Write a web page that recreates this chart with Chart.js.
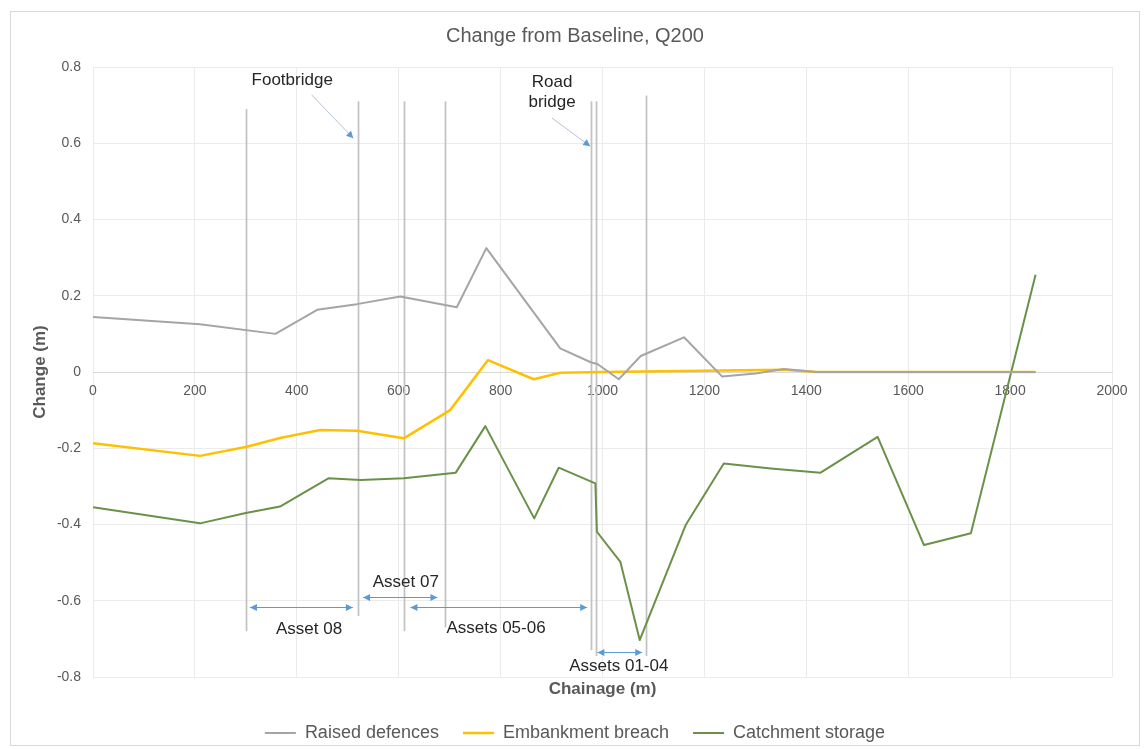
<!DOCTYPE html>
<html>
<head>
<meta charset="utf-8">
<title>Change from Baseline, Q200</title>
<script src="https://cdn.jsdelivr.net/npm/chart.js@4.4.1/dist/chart.umd.min.js"></script>
<style>
  html, body { margin: 0; padding: 0; background: #ffffff; }
  #wrap { position: relative; width: 1144px; height: 749px; }
</style>
</head>
<body>
<div id="wrap"><canvas id="chart" width="1144" height="749"></canvas></div>
<script>
// ---- Series data: chainage (m) and change in level (m) ----
const raisedChainage = [0, 210, 358, 440, 518, 603, 714, 772, 917, 978, 990, 1032, 1075, 1160, 1235, 1300, 1356, 1420, 1850];
const raisedChange   = [0.144, 0.125, 0.100, 0.163, 0.178, 0.198, 0.170, 0.325, 0.062, 0.025, 0.021, -0.019, 0.042, 0.091, -0.012, -0.004, 0.008, 0, 0];

const breachChainage = [0, 210, 302, 367, 446, 518, 610, 701, 775, 865, 917, 1000, 1356, 1420, 1850];
const breachChange   = [-0.187, -0.220, -0.196, -0.173, -0.152, -0.154, -0.174, -0.100, 0.031, -0.019, -0.002, 0, 0.006, 0, 0];

const storageChainage = [0, 210, 300, 367, 462, 525, 610, 712, 770, 866, 914, 986, 989, 1035, 1073, 1163, 1238, 1330, 1428, 1540, 1631, 1723, 1850];
const storageChange   = [-0.355, -0.397, -0.370, -0.353, -0.279, -0.283, -0.279, -0.264, -0.142, -0.384, -0.251, -0.292, -0.419, -0.498, -0.703, -0.402, -0.240, -0.253, -0.264, -0.170, -0.454, -0.423, 0.255];

const seriesNames = ['Raised defences', 'Embankment breach', 'Catchment storage'];

// ---- Axis ticks ----
const xTickMin = 0, xTickMax = 2000, xTickStep = 200;
const yTickMin = -0.8, yTickMax = 0.8, yTickStep = 0.2;

// ---- Asset reach markers (chainage, m) ----
const assetLineChainage = [300, 520, 610, 690, 978, 988, 1086];
const assetLineTop      = [0.69, 0.71, 0.71, 0.71, 0.71, 0.71, 0.725];
const assetLineBottom   = [-0.68, -0.64, -0.68, -0.67, -0.73, -0.745, -0.745];

const assetSpanStart = [308, 530, 623, 990];
const assetSpanEnd   = [510, 676, 970, 1078];
const assetSpanLevel = [-0.617, -0.59, -0.617, -0.735];

const assetLabels         = ['Asset 08', 'Asset 07', 'Assets 05-06', 'Assets 01-04'];
const assetLabelChainage  = [424, 614, 791, 1032];
const assetLabelLevel     = [-0.675, -0.552, -0.672, -0.772];

// ---- Bridge callouts ----
const bridgeLabels        = [['Footbridge'], ['Road', 'bridge']];
const bridgeLabelChainage = [391, 901];
const bridgeLabelLevel    = [0.764, 0.759];
const bridgeLeaderFrom    = [[429, 0.727], [901, 0.666]];
const bridgeLeaderTo      = [[511, 0.613], [976, 0.592]];

const toPoints = (xs, ys) => xs.map((x, i) => ({ x: x, y: ys[i] }));

const FONT = "'Liberation Sans', Arial, Helvetica, sans-serif";
Chart.defaults.font.family = FONT;
Chart.defaults.color = '#595959';

function arrowHead(ctx, x, y, angle, len, half) {
  ctx.save();
  ctx.translate(x, y);
  ctx.rotate(angle);
  ctx.beginPath();
  ctx.moveTo(0, 0);
  ctx.lineTo(-len, -half);
  ctx.lineTo(-len, half);
  ctx.closePath();
  ctx.fill();
  ctx.restore();
}

const chartFrame = {
  id: 'chartFrame',
  beforeDraw(chart) {
    const ctx = chart.ctx;
    ctx.save();
    ctx.fillStyle = '#ffffff';
    ctx.fillRect(0, 0, chart.width, chart.height);
    ctx.strokeStyle = '#d9d9d9';
    ctx.lineWidth = 1;
    ctx.strokeRect(10.5, 11.5, chart.width - 15, chart.height - 15);
    ctx.restore();
  }
};

const assetMarks = {
  id: 'assetMarks',
  beforeDatasetsDraw(chart) {
    const { ctx, scales: { x, y } } = chart;
    ctx.save();
    ctx.strokeStyle = '#c3c3c3';
    ctx.lineWidth = 1.75;
    assetLineChainage.forEach((c, i) => {
      const px = Math.round(x.getPixelForValue(c)) + 0.5;
      ctx.beginPath();
      ctx.moveTo(px, y.getPixelForValue(assetLineTop[i]));
      ctx.lineTo(px, y.getPixelForValue(assetLineBottom[i]));
      ctx.stroke();
    });
    ctx.restore();
  },
  afterDatasetsDraw(chart) {
    const { ctx, scales: { x, y } } = chart;
    ctx.save();
    // dimension arrows for each asset reach
    ctx.strokeStyle = '#5b9bd5';
    ctx.fillStyle = '#5b9bd5';
    ctx.lineWidth = 1;
    assetSpanStart.forEach((c, i) => {
      const x0 = x.getPixelForValue(c);
      const x1 = x.getPixelForValue(assetSpanEnd[i]);
      const py = Math.round(y.getPixelForValue(assetSpanLevel[i])) + 0.5;
      ctx.beginPath();
      ctx.moveTo(x0, py);
      ctx.lineTo(x1, py);
      ctx.stroke();
      arrowHead(ctx, x0, py, Math.PI, 7, 3.5);
      arrowHead(ctx, x1, py, 0, 7, 3.5);
    });
    // bridge leader lines
    bridgeLeaderFrom.forEach((from, i) => {
      const to = bridgeLeaderTo[i];
      const ax = x.getPixelForValue(from[0]), ay = y.getPixelForValue(from[1]);
      const bx = x.getPixelForValue(to[0]), by = y.getPixelForValue(to[1]);
      ctx.strokeStyle = '#b4c2d6';
      ctx.beginPath();
      ctx.moveTo(ax, ay);
      ctx.lineTo(bx, by);
      ctx.stroke();
      ctx.fillStyle = '#5b9bd5';
      arrowHead(ctx, bx, by, Math.atan2(by - ay, bx - ax), 7, 3.5);
    });
    // labels
    ctx.fillStyle = '#262626';
    ctx.font = '17px ' + FONT;
    ctx.textAlign = 'center';
    ctx.textBaseline = 'middle';
    assetLabels.forEach((t, i) => {
      ctx.fillText(t, x.getPixelForValue(assetLabelChainage[i]), y.getPixelForValue(assetLabelLevel[i]));
    });
    bridgeLabels.forEach((lines, i) => {
      const px = x.getPixelForValue(bridgeLabelChainage[i]);
      const py = y.getPixelForValue(bridgeLabelLevel[i]);
      lines.forEach((t, k) => ctx.fillText(t, px, py + k * 20));
    });
    ctx.restore();
  }
};

new Chart(document.getElementById('chart'), {
  type: 'line',
  data: {
    datasets: [
      { label: seriesNames[0], data: toPoints(raisedChainage, raisedChange), borderColor: '#a5a5a5', backgroundColor: '#a5a5a5', borderWidth: 2 },
      { label: seriesNames[1], data: toPoints(breachChainage, breachChange), borderColor: '#ffc000', backgroundColor: '#ffc000', borderWidth: 2.5 },
      { label: seriesNames[2], data: toPoints(storageChainage, storageChange), borderColor: '#6a9148', backgroundColor: '#6a9148', borderWidth: 2 }
    ]
  },
  options: {
    responsive: false,
    animation: false,
    elements: { point: { radius: 0, hoverRadius: 0 }, line: { tension: 0, borderJoinStyle: 'round' } },
    layout: { padding: { top: 0, left: 6, right: 0, bottom: 0 } },
    scales: {
      x: {
        type: 'linear',
        position: { y: 0 },
        min: xTickMin, max: xTickMax,
        ticks: { stepSize: xTickStep, autoSkip: false, maxRotation: 0, padding: 11, font: { size: 14 }, color: '#595959', callback: v => String(v) },
        grid: { color: '#ebebeb', drawTicks: false },
        border: { color: '#d9d9d9', width: 1 }
      },
      y: {
        type: 'linear',
        position: 'left',
        min: yTickMin, max: yTickMax,
        ticks: { stepSize: yTickStep, padding: 12, font: { size: 14 }, color: '#595959', callback: v => { const r = Math.round(v * 10) / 10; return r === 0 ? '0' : String(r); } },
        grid: { color: '#ebebeb', drawTicks: false },
        border: { display: false },
        title: { display: true, text: 'Change (m)', font: { size: 17, weight: 'bold' }, color: '#595959', padding: { top: 24, bottom: 0 } },
        afterFit(scale) { scale.width = 87; }
      },
      xTitle: {
        type: 'linear',
        position: 'bottom',
        display: true,
        ticks: { display: false },
        grid: { display: false, drawTicks: false },
        border: { display: false },
        title: { display: true, text: 'Chainage (m)', font: { size: 17, weight: 'bold' }, color: '#595959', padding: { top: 2.6, bottom: 0 } }
      },
      yRight: {
        type: 'linear',
        position: 'right',
        display: true,
        ticks: { display: false },
        grid: { display: false, drawTicks: false },
        border: { display: false },
        afterFit(scale) { scale.width = 32; }
      }
    },
    plugins: {
      title: { display: true, text: 'Change from Baseline, Q200', font: { size: 20, weight: 'normal' }, color: '#595959', padding: { top: 24, bottom: 19 } },
      legend: {
        position: 'bottom',
        maxHeight: 49,
        labels: { usePointStyle: true, pointStyle: 'line', pointStyleWidth: 31, padding: 24, font: { size: 18 }, color: '#595959' }
      },
      tooltip: { enabled: false }
    }
  },
  plugins: [chartFrame, assetMarks]
});
</script>
</body>
</html>
